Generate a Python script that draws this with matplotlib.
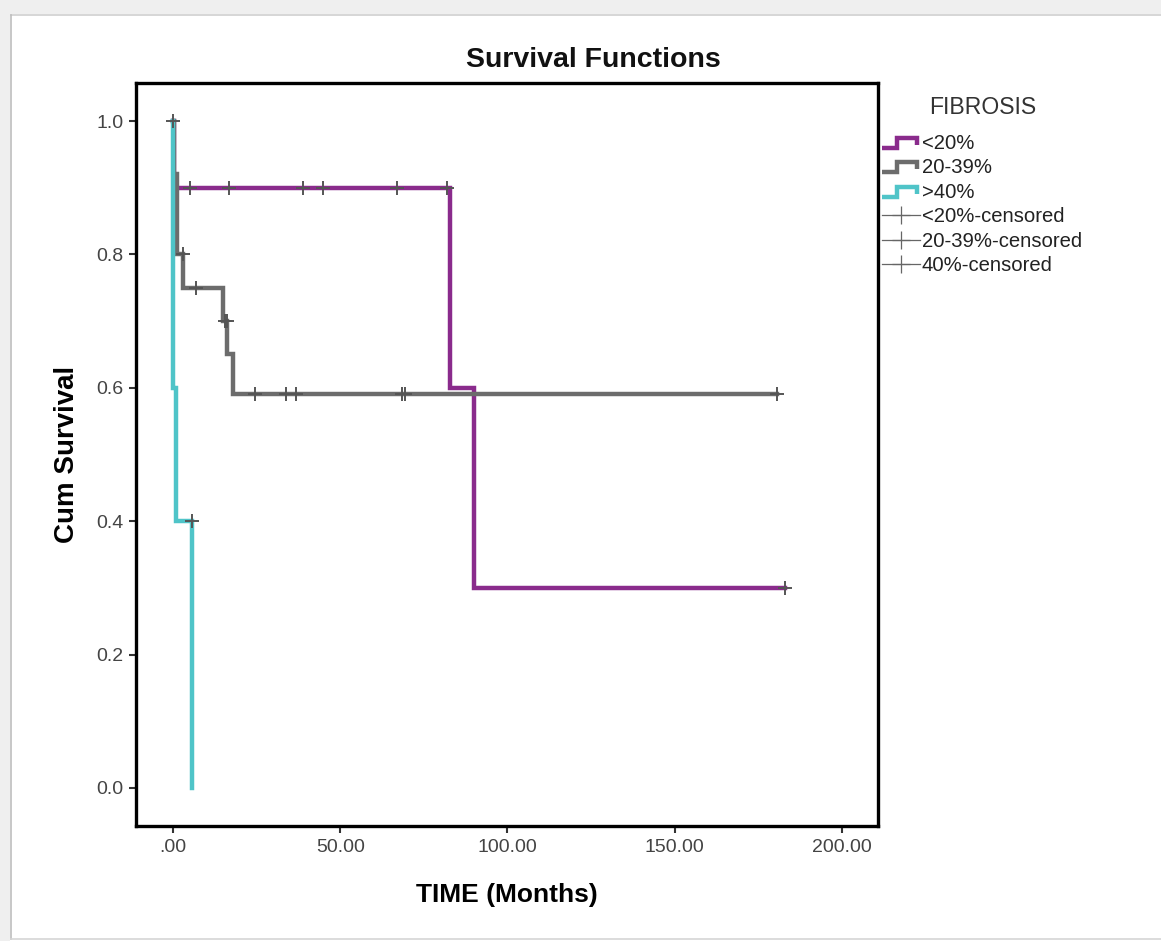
import numpy as np
import matplotlib
matplotlib.use("Agg")
import matplotlib.pyplot as plt
from matplotlib.lines import Line2D
from matplotlib.patches import Rectangle
from matplotlib.legend_handler import HandlerBase

plt.rcParams['font.family'] = ['Liberation Sans', 'DejaVu Sans']

# Kaplan-Meier step data (time in months, cum survival)
lt20_time = [0, 0.3, 82.7, 90.1, 183.0]
lt20_surv = [1.0, 0.9, 0.6, 0.3, 0.3]
lt20_cens = [5.0, 16.7, 38.9, 44.8, 67.0, 81.8, 183.0]

mid_time = [0, 0.2, 1.1, 3.1, 14.9, 16.1, 18.0, 180.5]
mid_surv = [1.0, 0.92, 0.80, 0.75, 0.70, 0.65, 0.59, 0.59]
mid_cens = [0.0, 3.0, 6.9, 15.5, 16.0, 24.5, 33.8, 36.8, 68.5, 69.5, 180.5]

gt40_time = [0, 0.1, 1.0, 5.8]
gt40_surv = [1.0, 0.6, 0.4, 0.0]
gt40_cens = [5.6]

labels = ["<20%", "20-39%", ">40%"]
cens_labels = ["<20%-censored", "20-39%-censored", "40%-censored"]
colors = ["#8a2b8c", "#6c6c6c", "#4fc4c8"]
xticks = [0, 50, 100, 150, 200]
xtick_labels = [".00", "50.00", "100.00", "150.00", "200.00"]
yticks = [0.0, 0.2, 0.4, 0.6, 0.8, 1.0]


def surv_at(times, surv, t):
    # value of the step function (post) at time t
    idx = np.searchsorted(times, t, side='right') - 1
    return np.asarray(surv)[idx]


class StepHandler(HandlerBase):
    def create_artists(self, legend, orig_handle, xdescent, ydescent,
                       width, height, fontsize, trans):
        x0, y0 = -xdescent, -ydescent
        xs = [x0, x0 + 0.4 * width, x0 + 0.4 * width, x0 + 0.92 * width, x0 + 0.92 * width]
        ys = [y0 + 0.1 * height, y0 + 0.1 * height, y0 + 0.8 * height,
              y0 + 0.8 * height, y0 + 0.3 * height]
        line = Line2D(xs, ys, color=orig_handle.get_color(),
                      lw=orig_handle.get_linewidth(), solid_joinstyle='miter',
                      solid_capstyle='butt')
        line.set_transform(trans)
        return [line]


fig = plt.figure(figsize=(11.61, 9.41), dpi=100)
fig.patch.set_facecolor('white')

# screenshot frame
fig.patches.append(Rectangle((0, 1 - 14 / 941), 1, 14 / 941, transform=fig.transFigure,
                             facecolor='#efefef', edgecolor='none'))
fig.patches.append(Rectangle((0, 0), 10 / 1161, 1, transform=fig.transFigure,
                             facecolor='#efefef', edgecolor='none'))
fig.add_artist(Line2D([10.5 / 1161, 1], [1 - 14.5 / 941, 1 - 14.5 / 941],
                      transform=fig.transFigure, color='#cfcfcf', lw=1.2))
fig.add_artist(Line2D([10.5 / 1161, 10.5 / 1161], [2.5 / 941, 1 - 14.5 / 941],
                      transform=fig.transFigure, color='#bdbdbd', lw=1.2))
fig.add_artist(Line2D([10.5 / 1161, 1], [2.5 / 941, 2.5 / 941],
                      transform=fig.transFigure, color='#d5d5d5', lw=1.2))

ax = fig.add_axes([136 / 1161, 1 - 826 / 941, (878 - 136) / 1161, (826 - 83) / 941])

series = [(lt20_time, lt20_surv, lt20_cens),
          (mid_time, mid_surv, mid_cens),
          (gt40_time, gt40_surv, gt40_cens)]

step_handles = []
for (t, s, c), col, lab in zip(series, colors, labels):
    h, = ax.step(t, s, where='post', color=col, lw=3.2, solid_joinstyle='miter', zorder=2)
    step_handles.append(h)

for (t, s, c) in series:
    ax.plot(c, surv_at(t, s, c), ls='none', marker='+', ms=10, mew=1.4,
            color='#555555', zorder=3)

ax.set_xlim(-11.06, 210.8)
ax.set_ylim(-0.057, 1.057)
ax.set_xticks(xticks)
ax.set_xticklabels(xtick_labels)
ax.set_yticks(yticks)
ax.set_yticklabels([f"{v:.1f}" for v in yticks])
ax.tick_params(direction='out', length=5, width=1.5, color='#333333',
               labelsize=14, labelcolor='#444444', pad=4)
for sp in ax.spines.values():
    sp.set_linewidth(2.4)
    sp.set_color('black')

fig.text(593 / 1161, 1 - 60 / 941, "Survival Functions", fontsize=20.5,
         fontweight='bold', ha='center', va='center', color='#111111')
ax.set_xlabel("TIME (Months)", fontsize=19, fontweight='bold', labelpad=20)
ax.set_ylabel("Cum Survival", fontsize=20, fontweight='bold', labelpad=12)

cens_handles = [Line2D([], [], color='#666666', lw=0.9, marker='+', ms=13, mew=0.9)
                for _ in cens_labels]
handler_map = {h: StepHandler() for h in step_handles}
leg = fig.legend(step_handles + cens_handles, labels + cens_labels,
                 loc='upper left', bbox_to_anchor=(882 / 1161, 1 - 134 / 941),
                 fontsize=14.6, frameon=False, handlelength=1.85, handletextpad=0.1,
                 labelspacing=0.27, borderaxespad=0, borderpad=0,
                 handler_map=handler_map)
for txt in leg.get_texts():
    txt.set_color('#222222')
fig.text(983 / 1161, 1 - 107 / 941, "FIBROSIS", fontsize=16.6, color='#333333',
         ha='center', va='center')

fig.savefig("out.png", dpi=100)
